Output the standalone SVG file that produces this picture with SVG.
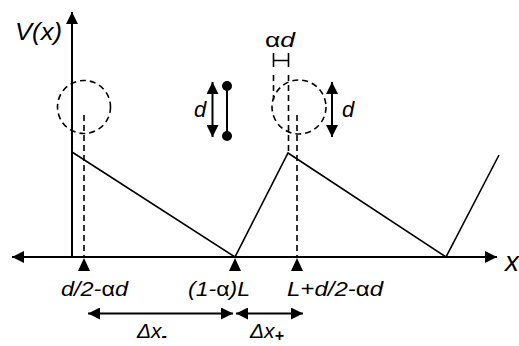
<svg xmlns="http://www.w3.org/2000/svg" width="519" height="346" viewBox="0 0 519 346">
<defs>
<style>
.ax{stroke:#000;stroke-width:2;fill:none}
.ln{stroke:#000;stroke-width:1.6;fill:none}
.ds{stroke:#000;stroke-width:1.6;fill:none;stroke-dasharray:6,4}
.t{font-family:"Liberation Sans",Arial,sans-serif;font-style:italic;fill:#000}
.g{font-style:normal}
</style>
<marker id="ah" viewBox="0 0 10 10" refX="10" refY="5" markerWidth="7" markerHeight="6" markerUnits="strokeWidth" orient="auto-start-reverse"><path d="M0,0L10,5L0,10z" fill="#000"/></marker>
</defs>
<rect width="519" height="346" fill="#fff"/>
<g id="axes">
<line class="ax" x1="72" y1="257" x2="72" y2="12" marker-end="url(#ah)"/>
<line class="ax" x1="12" y1="257" x2="497" y2="257" marker-start="url(#ah)" marker-end="url(#ah)"/>
<text class="t" x="15" y="40" font-size="24" textLength="47" lengthAdjust="spacingAndGlyphs">V(x)</text>
<text class="t" x="505" y="271" font-size="28">x</text>
</g>
<g id="potential">
<polyline class="ln" points="72,152 235,257 288,153 446,257 499,155"/>
</g>
<g id="circle-left">
<circle class="ds" cx="84" cy="107" r="26.5"/>
<line class="ds" x1="84" y1="115" x2="84" y2="258"/>
</g>
<g id="circle-right">
<circle class="ds" cx="299" cy="107" r="27"/>
<line class="ds" x1="288.5" y1="75" x2="288.5" y2="153"/>
<line class="ds" x1="273.5" y1="75" x2="273.5" y2="100"/>
<line class="ds" x1="297" y1="115" x2="297" y2="258"/>
</g>
<g id="alpha-d">
<path class="ln" d="M273.5,53V67M288.5,53V67M273.5,60.5H288.5"/>
<text class="t" x="265" y="47" font-size="21" textLength="30" lengthAdjust="spacingAndGlyphs"><tspan class="g">α</tspan>d</text>
</g>
<g id="d-arrow-right">
<line class="ax" x1="332" y1="82" x2="332" y2="137" marker-start="url(#ah)" marker-end="url(#ah)"/>
<text class="t" x="342" y="117" font-size="22">d</text>
</g>
<g id="dipole">
<line class="ax" x1="212.5" y1="82" x2="212.5" y2="137" marker-start="url(#ah)" marker-end="url(#ah)"/>
<line class="ax" x1="227" y1="86" x2="227" y2="136"/>
<circle cx="227" cy="86" r="5" fill="#000"/>
<circle cx="227" cy="136" r="5" fill="#000"/>
<text class="t" x="194" y="117" font-size="22">d</text>
</g>
<g id="ticks">
<path d="M84,258L90,271H78z" fill="#000"/>
<path d="M235,258L241,271H229z" fill="#000"/>
<path d="M297,258L303,271H291z" fill="#000"/>
<text class="t" x="61" y="296" font-size="20" textLength="67" lengthAdjust="spacingAndGlyphs">d/2-<tspan class="g">α</tspan>d</text>
<text class="t" x="188" y="296" font-size="20" textLength="62" lengthAdjust="spacingAndGlyphs">(1-<tspan class="g">α</tspan>)L</text>
<text class="t" x="287" y="296" font-size="20" textLength="96" lengthAdjust="spacingAndGlyphs">L+d/2-<tspan class="g">α</tspan>d</text>
</g>
<g id="delta-x">
<line class="ax" x1="88" y1="313.5" x2="233" y2="313.5" marker-start="url(#ah)" marker-end="url(#ah)"/>
<line class="ax" x1="236" y1="313.5" x2="303" y2="313.5" marker-start="url(#ah)" marker-end="url(#ah)"/>
<text class="t" x="137" y="338" font-size="21">Δx<tspan font-size="16" dy="3" font-weight="bold">-</tspan></text>
<text class="t" x="250" y="338" font-size="21">Δx<tspan font-size="16" dy="3" font-weight="bold">+</tspan></text>
</g>
</svg>
